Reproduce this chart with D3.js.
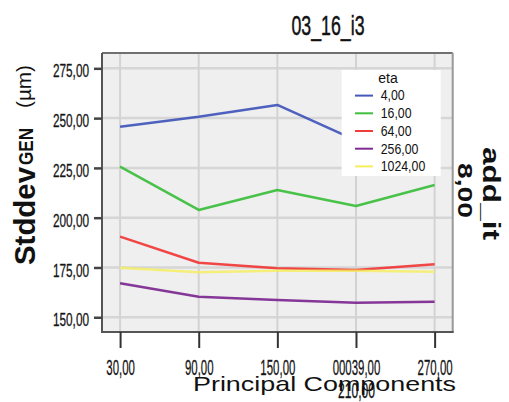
<!DOCTYPE html>
<html>
<head>
<meta charset="utf-8">
<script src="https://cdn.jsdelivr.net/npm/d3@7"></script>
<style>
  html, body { margin: 0; padding: 0; background: #fff; }
  svg { display: block; }
  text { font-family: "Liberation Sans", Arial, sans-serif; fill: #111; }
</style>
</head>
<body>
<svg id="chart" width="509" height="402"></svg>
<script>
// Principal components on the x axis (categorical)
const components = [30, 90, 150, 210, 270];
const xTickLabels = ["30,00", "90,00", "150,00", "00039,00", "270,00"];
const xTickSecondLine = ["", "", "", "210,00", ""];

// Y axis ticks
const yTicks = [150, 175, 200, 225, 250, 275];
const yTickLabels = ["150,00", "175,00", "200,00", "225,00", "250,00", "275,00"];

// Legend levels of eta and their series (Stddev GEN in µm)
const etaLevels = ["4,00", "16,00", "64,00", "256,00", "1024,00"];
const eta4    = [245.7, 250.7, 256.6, 238.8, 240.0];
const eta16   = [225.6, 203.9, 213.9, 205.9, 216.4];
const eta64   = [190.5, 177.4, 174.6, 173.7, 176.6];
const eta256  = [167.1, 160.3, 158.7, 157.3, 157.8];
const eta1024 = [174.9, 172.6, 173.4, 173.4, 172.9];
const etaColors = ["#4658bb", "#3fbf3f", "#f03c3c", "#7e2c92", "#f6ef5c"];

const seriesValues = [eta4, eta16, eta64, eta256, eta1024];

const svg = d3.select("#chart");
const plot = { left: 102, right: 452.7, top: 53, bottom: 332 };

const x = d3.scalePoint()
  .domain(components)
  .range([plot.left, plot.right])
  .padding(0.23);

const y = d3.scaleLinear()
  .domain([142.6, 282.7])
  .range([plot.bottom, plot.top]);

// narrow the rendered text horizontally by factor k
function squeeze(sel, k) {
  sel.each(function () {
    const len = this.getComputedTextLength();
    d3.select(this)
      .attr("textLength", len * k)
      .attr("lengthAdjust", "spacingAndGlyphs");
  });
}

// plot background
svg.append("rect")
  .attr("x", plot.left).attr("y", plot.top)
  .attr("width", plot.right - plot.left)
  .attr("height", plot.bottom - plot.top)
  .attr("fill", "#efefef");

// grid
svg.append("g").selectAll("line").data(yTicks).join("line")
  .attr("x1", plot.left).attr("x2", plot.right)
  .attr("y1", d => y(d)).attr("y2", d => y(d))
  .attr("stroke", "#d6d6d6").attr("stroke-width", 2.5);

svg.append("g").selectAll("line").data(components).join("line")
  .attr("x1", d => x(d)).attr("x2", d => x(d))
  .attr("y1", plot.top).attr("y2", plot.bottom)
  .attr("stroke", "#d3d3d3").attr("stroke-width", 2);

// frame
svg.append("line")
  .attr("x1", plot.left).attr("x2", plot.right)
  .attr("y1", plot.top).attr("y2", plot.top)
  .attr("stroke", "#707070").attr("stroke-width", 2);
svg.append("line")
  .attr("x1", plot.right).attr("x2", plot.right)
  .attr("y1", plot.top).attr("y2", plot.bottom)
  .attr("stroke", "#999").attr("stroke-width", 2);
svg.append("line")
  .attr("x1", plot.left).attr("x2", plot.left)
  .attr("y1", plot.top).attr("y2", plot.bottom + 1)
  .attr("stroke", "#555").attr("stroke-width", 2);
svg.append("line")
  .attr("x1", plot.left - 1).attr("x2", plot.right + 1)
  .attr("y1", plot.bottom).attr("y2", plot.bottom)
  .attr("stroke", "#555").attr("stroke-width", 2);

// y axis
const yAxis = svg.append("g")
  .attr("transform", `translate(${plot.left},0)`)
  .call(d3.axisLeft(y)
    .tickValues(yTicks)
    .tickFormat((d, i) => yTickLabels[i])
    .tickSize(8)
    .tickPadding(5));
yAxis.select(".domain").remove();
yAxis.selectAll(".tick line").attr("stroke", "#444").attr("stroke-width", 2.5);
yAxis.selectAll(".tick text")
  .attr("font-family", "Liberation Sans, Arial, sans-serif")
  .attr("font-size", 18)
  .attr("fill", "#222")
  .attr("stroke", "#222").attr("stroke-width", 0.3)
  .attr("dy", "0.48em");
squeeze(yAxis.selectAll(".tick text"), 0.655);

// x axis
const xAxis = svg.append("g")
  .attr("transform", `translate(0,${plot.bottom})`)
  .call(d3.axisBottom(x)
    .tickFormat((d, i) => xTickLabels[i])
    .tickSize(16)
    .tickPadding(11));
xAxis.select(".domain").remove();
xAxis.selectAll(".tick line").attr("stroke", "#333").attr("stroke-width", 2);
xAxis.selectAll(".tick text")
  .attr("font-family", "Liberation Sans, Arial, sans-serif")
  .attr("font-size", 22)
  .attr("fill", "#222")
  .attr("stroke", "#222").attr("stroke-width", 0.3);
squeeze(xAxis.selectAll(".tick text"), 0.52);
xAxis.selectAll(".tick").each(function (d, i) {
  if (!xTickSecondLine[i]) return;
  const t = d3.select(this).append("text")
    .attr("y", 66)
    .attr("text-anchor", "middle")
    .attr("font-size", 22)
    .attr("fill", "#222")
    .attr("stroke", "#222").attr("stroke-width", 0.3)
    .text(xTickSecondLine[i]);
  squeeze(t, 0.55);
});

// series lines
const line = d3.line()
  .x((d, i) => x(components[i]))
  .y(d => y(d));

svg.append("g").selectAll("path").data(seriesValues).join("path")
  .attr("d", d => line(d))
  .attr("fill", "none")
  .attr("stroke", (d, i) => etaColors[i])
  .attr("stroke-opacity", (d, i) => i === 4 ? 0.8 : 0.95)
  .attr("stroke-width", 2.5)
  .attr("stroke-linejoin", "round");

// legend
const legend = svg.append("g");
legend.append("rect")
  .attr("x", 341.7).attr("y", 70)
  .attr("width", 99).attr("height", 106)
  .attr("fill", "#fff");
legend.append("text")
  .attr("x", 388).attr("y", 83)
  .attr("text-anchor", "middle")
  .attr("font-size", 14)
  .attr("fill", "#222")
  .text("eta");
const rows = legend.selectAll("g.row").data(etaLevels).join("g")
  .attr("class", "row")
  .attr("transform", (d, i) => `translate(0,${95.6 + i * 17.7})`);
rows.append("line")
  .attr("x1", 355).attr("x2", 373)
  .attr("stroke", (d, i) => etaColors[i])
  .attr("stroke-width", 2);
const rowText = rows.append("text")
  .attr("x", 380.7).attr("y", 4.8)
  .attr("font-size", 14.5)
  .attr("fill", "#222")
  .text(d => d);
squeeze(rowText, 0.85);

// title
const title = svg.append("text")
  .attr("x", 328).attr("y", 35)
  .attr("text-anchor", "middle")
  .attr("font-size", 28)
  .attr("fill", "#111")
  .attr("stroke", "#111").attr("stroke-width", 0.5)
  .text("03_16_i3");
squeeze(title, 73 / title.node().getComputedTextLength());

// y axis title: Stddev_GEN (µm)
const yTitle = svg.append("g").attr("transform", "translate(35,265) rotate(-90)");
yTitle.append("text")
  .attr("x", 0).attr("y", 0)
  .attr("font-size", 30).attr("font-weight", "bold")
  .attr("textLength", 98).attr("lengthAdjust", "spacingAndGlyphs")
  .text("Stddev");
yTitle.append("text")
  .attr("x", 100).attr("y", -2)
  .attr("font-size", 20).attr("font-weight", "bold")
  .attr("textLength", 37).attr("lengthAdjust", "spacingAndGlyphs")
  .text("GEN");
yTitle.append("text")
  .attr("x", 157).attr("y", -4)
  .attr("font-size", 20)
  .attr("textLength", 43).attr("lengthAdjust", "spacingAndGlyphs")
  .text("(µm)");

// x axis title
svg.append("text")
  .attr("x", 193).attr("y", 391)
  .attr("font-size", 21)
  .attr("fill", "#111")
  .attr("textLength", 263).attr("lengthAdjust", "spacingAndGlyphs")
  .text("Principal Components");

// panel label on the right
svg.append("text")
  .attr("transform", "translate(483,147) rotate(90)")
  .attr("font-size", 23).attr("font-weight", "bold")
  .attr("textLength", 93).attr("lengthAdjust", "spacingAndGlyphs")
  .text("add_it");
svg.append("text")
  .attr("transform", "translate(458,163) rotate(90)")
  .attr("font-size", 20).attr("font-weight", "bold")
  .attr("textLength", 55).attr("lengthAdjust", "spacingAndGlyphs")
  .text("8,00");
</script>
</body>
</html>
